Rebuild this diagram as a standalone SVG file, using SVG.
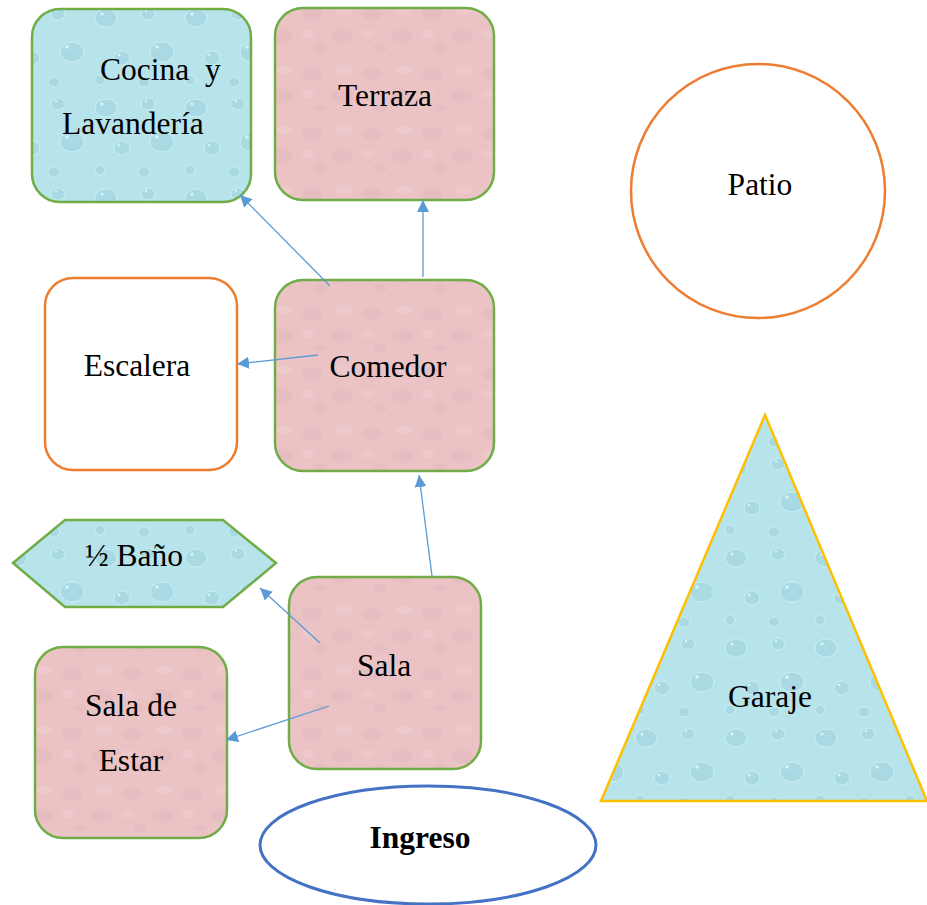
<svg xmlns="http://www.w3.org/2000/svg" width="927" height="905" viewBox="0 0 927 905">
  <style>
    .lbl { font-family: "Liberation Serif", "Times New Roman", serif; font-size: 31.5px; fill: #000; }
    .bold { font-weight: bold; }
    .green { stroke: #70AD47; stroke-width: 2.5; }
    .orange { stroke: #ED7D31; stroke-width: 2.5; fill: #fff; }
    .pink { fill: url(#granite); }
    .water { fill: url(#drops); }
    .conn { stroke: #5B9BD5; stroke-width: 1.3; fill: none; marker-end: url(#head); }
  </style>
  <defs>
    <marker id="head" viewBox="0 0 10 10" refX="10" refY="5" markerWidth="12" markerHeight="12" markerUnits="userSpaceOnUse" orient="auto">
      <path d="M0,0 L10,5 L0,10 z" fill="#5B9BD5"/>
    </marker>
    <!-- droplet texture -->
    <pattern id="drops" width="90" height="90" patternUnits="userSpaceOnUse">
      <rect width="90" height="90" fill="#B7E3EB"/>
      <g fill="#A9DAE4" stroke="#CBEEF4" stroke-width="1">
        <ellipse cx="16" cy="18" rx="11" ry="9"/>
        <ellipse cx="58" cy="14" rx="7" ry="6"/>
        <ellipse cx="72" cy="52" rx="12" ry="10"/>
        <ellipse cx="32" cy="58" rx="8" ry="7"/>
        <ellipse cx="10" cy="80" rx="5" ry="5"/>
        <ellipse cx="54" cy="82" rx="6" ry="5"/>
      </g>
      <g fill="#D9F3F7">
        <circle cx="12" cy="14" r="1.6"/>
        <circle cx="56" cy="11" r="1.2"/>
        <circle cx="67" cy="47" r="1.8"/>
        <circle cx="29" cy="55" r="1.3"/>
      </g>
    </pattern>
    <!-- mottled pink stone -->
    <pattern id="granite" width="60" height="60" patternUnits="userSpaceOnUse">
      <rect width="60" height="60" fill="#EBC3C5"/>
      <g fill="#E3B9BC" opacity="0.6">
        <ellipse cx="12" cy="14" rx="10" ry="6"/>
        <ellipse cx="42" cy="36" rx="11" ry="7"/>
        <ellipse cx="20" cy="48" rx="7" ry="4"/>
      </g>
      <g fill="#F0CDCF" opacity="0.6">
        <ellipse cx="44" cy="10" rx="8" ry="4"/>
        <ellipse cx="8" cy="34" rx="6" ry="4"/>
      </g>
    </pattern>
  </defs>

  <g id="cocina">
    <rect x="32" y="9" width="219" height="193" rx="28" class="water green"/>
    <text x="100" y="80" class="lbl" xml:space="preserve">Cocina  y</text>
    <text x="62" y="134" class="lbl">Lavandería</text>
  </g>

  <g id="terraza">
    <rect x="275" y="8" width="219" height="192" rx="28" class="pink green"/>
    <text x="385" y="106" class="lbl" text-anchor="middle">Terraza</text>
  </g>

  <g id="patio">
    <ellipse cx="758" cy="191" rx="127" ry="127" class="orange"/>
    <text x="760" y="195" class="lbl" text-anchor="middle">Patio</text>
  </g>

  <g id="escalera">
    <rect x="45" y="278" width="192" height="192" rx="28" class="orange"/>
    <text x="137" y="376" class="lbl" text-anchor="middle">Escalera</text>
  </g>

  <g id="comedor">
    <rect x="275" y="280" width="219" height="191" rx="28" class="pink green"/>
    <text x="388" y="377" class="lbl" text-anchor="middle">Comedor</text>
  </g>

  <g id="bano">
    <polygon points="13,563 65,520 223,520 276,563 223,607 65,607" class="water green"/>
    <text x="134" y="566" class="lbl" text-anchor="middle">½ Baño</text>
  </g>

  <g id="sala">
    <rect x="289" y="577" width="192" height="192" rx="28" class="pink green"/>
    <text x="384" y="676" class="lbl" text-anchor="middle">Sala</text>
  </g>

  <g id="sala-estar">
    <rect x="35" y="647" width="192" height="191" rx="28" class="pink green"/>
    <text x="131" y="716" class="lbl" text-anchor="middle">Sala de</text>
    <text x="131" y="771" class="lbl" text-anchor="middle">Estar</text>
  </g>

  <g id="garaje">
    <polygon points="765,415 601,801 927,801" class="water" stroke="#FFC000" stroke-width="2.5"/>
    <text x="770" y="707" class="lbl" text-anchor="middle">Garaje</text>
  </g>

  <g id="ingreso">
    <ellipse cx="428" cy="845" rx="168" ry="59" fill="#fff" stroke="#4472C4" stroke-width="3"/>
    <text x="420" y="848" class="lbl bold" text-anchor="middle">Ingreso</text>
  </g>

  <g id="connectors">
    <line x1="330" y1="286" x2="240" y2="195" class="conn"/>
    <line x1="423" y1="277" x2="423" y2="200" class="conn"/>
    <line x1="318" y1="355" x2="237" y2="364" class="conn"/>
    <line x1="432" y1="576" x2="419" y2="475" class="conn"/>
    <line x1="320" y1="643" x2="260" y2="588" class="conn"/>
    <line x1="329" y1="706" x2="226" y2="740" class="conn"/>
  </g>
</svg>
